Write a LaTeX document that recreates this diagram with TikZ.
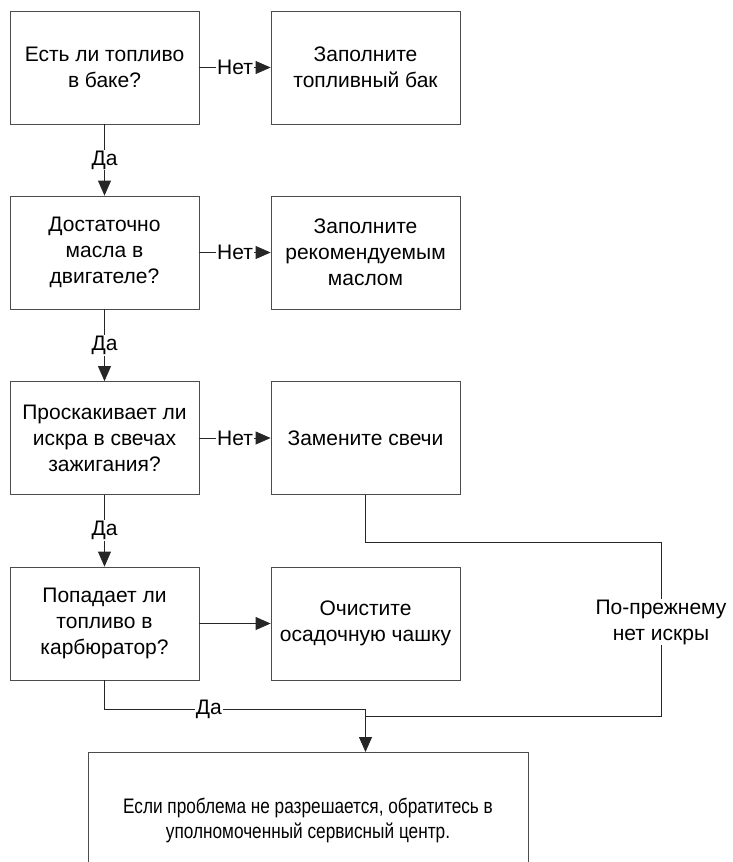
\documentclass[tikz,border=0pt]{standalone}
\usepackage{fontspec}
\setmainfont{Liberation Sans}
\newfontfamily\narrowfont[FakeStretch=0.82]{Liberation Sans}
\usetikzlibrary{arrows.meta}
\begin{document}
\begin{tikzpicture}[x=1pt,y=-1pt,
  box/.style={draw=black!70, line width=0.8pt, minimum width=189pt, minimum height=113pt, inner sep=0pt, align=center, font=\fontsize{21}{26}\selectfont},
  conn/.style={draw=black!85, line width=0.8pt},
  arr/.style={conn, -{Triangle[length=15pt,width=13pt]}},
  lbl/.style={fill=white, inner sep=1pt, font=\fontsize{21}{26}\selectfont, align=center}]
\useasboundingbox (0,0) rectangle (732,862);
\clip (0,0) rectangle (732,862);
% left column
\node[box] (q1) at (104.5,67.5) {Есть ли топливо\\в баке?};
\node[box] (q2) at (104.5,252.5) {Достаточно\\масла в\\двигателе?};
\node[box] (q3) at (104.5,438) {Проскакивает ли\\искра в свечах\\зажигания?};
\node[box] (q4) at (104.5,623.5) {Попадает ли\\топливо в\\карбюратор?};
% right column
\node[box] (a1) at (365.5,67.5) {Заполните\\топливный бак};
\node[box] (a2) at (365.5,252.5) {Заполните\\рекомендуемым\\маслом};
\node[box] (a3) at (365.5,438) {Замените свечи};
\node[box] (a4) at (365.5,623.5) {Очистите\\осадочную чашку};
% final
\node[box, minimum width=440pt, minimum height=136pt, anchor=north, font=\narrowfont\fontsize{21}{25}\selectfont] (fin) at (308,752) {Если проблема не разрешается, обратитесь в\\уполномоченный сервисный центр.};
% coordinates
\coordinate (r1) at (365.5,542);
\coordinate (r2) at (661,542);
\coordinate (r3) at (661,716);
\coordinate (r4) at (365.5,716);
\coordinate (d1) at (104.5,709);
\coordinate (d2) at (365.5,709);
% connectors
\draw[arr] (q1) -- node[lbl]{Нет} (a1);
\draw[arr] (q2) -- node[lbl]{Нет} (a2);
\draw[arr] (q3) -- node[lbl]{Нет} (a3);
\draw[arr] (q4) -- (a4);
\draw[arr] (q1) -- node[lbl]{Да} (q2);
\draw[arr] (q2) -- node[lbl]{Да} (q3);
\draw[arr] (q3) -- node[lbl]{Да} (q4);
\draw[conn] (q4.south) -- (d1) -- node[lbl, pos=0.4]{Да} (d2);
\draw[arr] (d2) -- (d2 |- fin.north);
\draw[conn] (a3.south) -- (r1) -- (r2) -- node[lbl, pos=0.46]{По-прежнему\\нет искры} (r3) -- (r4);
\end{tikzpicture}
\end{document}
